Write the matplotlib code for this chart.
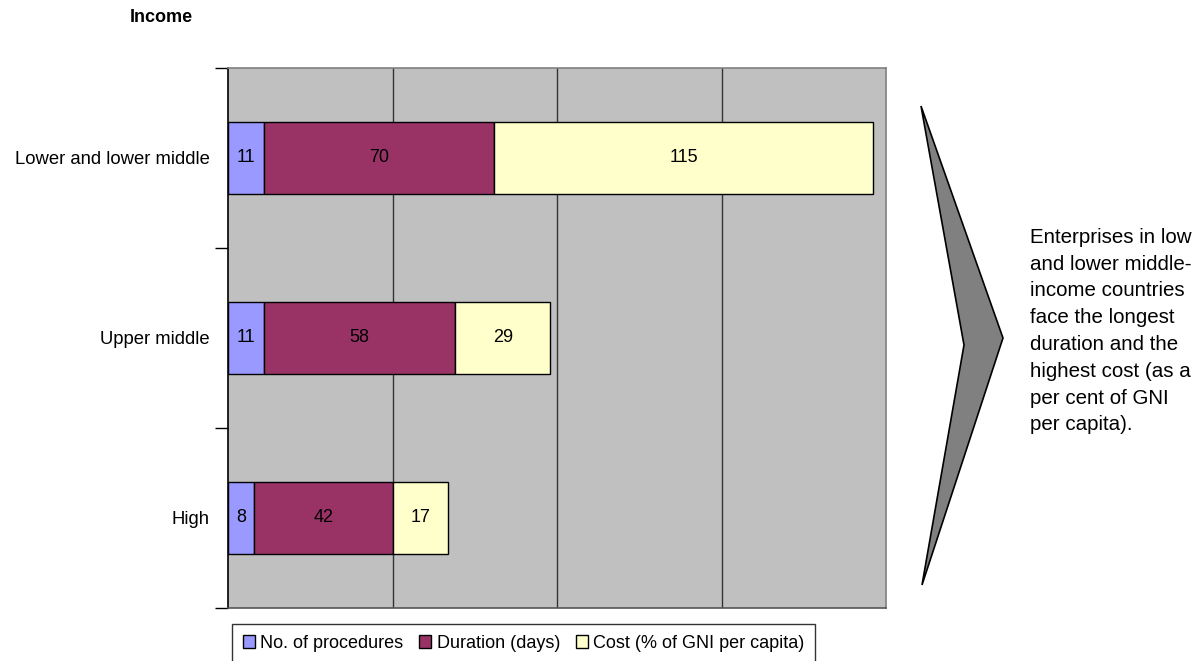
import numpy as np
import matplotlib.pyplot as plt
from matplotlib.patches import Polygon

plt.rcParams['font.family'] = ['Liberation Sans', 'DejaVu Sans']

categories = ['High', 'Upper middle', 'Lower and lower middle']
series_names = ['No. of procedures', 'Duration (days)', 'Cost (% of GNI per capita)']
procedures = [8, 11, 11]
duration = [42, 58, 70]
cost = [17, 29, 115]
colors = ['#9999FF', '#993366', '#FFFFCC']

W, H = 1202, 661
fig = plt.figure(figsize=(W / 100, H / 100), dpi=100)
ax = fig.add_axes([228 / W, 1 - 608 / H, (886 - 228) / W, (608 - 68) / H])
ax.set_facecolor('#C0C0C0')

y = np.arange(len(categories))
left = np.zeros(len(categories))
for vals, name, col in zip([procedures, duration, cost], series_names, colors):
    bars = ax.barh(y, vals, left=left, height=0.4, color=col,
                   edgecolor='black', linewidth=1, label=name, zorder=3)
    for b, v in zip(bars, vals):
        ax.text(b.get_x() + b.get_width() / 2, b.get_y() + b.get_height() / 2,
                str(v), ha='center', va='center', fontsize=13, zorder=4)
    left += np.array(vals)

ax.set_xlim(0, 200)
ax.set_ylim(-0.5, 2.5)
ax.set_xticks([50, 100, 150])
ax.xaxis.grid(True, color='#333333', linewidth=1, zorder=1)
ax.tick_params(axis='x', length=0, labelbottom=False)

ax.set_yticks([-0.5, 0.5, 1.5, 2.5])
ax.set_yticklabels([])
ax.set_yticks(y, minor=True)
ax.set_yticklabels(categories, minor=True, fontsize=13.3)
ax.tick_params(axis='y', which='major', length=9.5, width=1, color='black')
ax.tick_params(axis='y', which='minor', length=0, pad=13)

ax.spines['left'].set_color('black')
ax.spines['bottom'].set_color('#555555')
ax.spines['top'].set_color('#808080')
ax.spines['right'].set_color('#808080')
for s in ax.spines.values():
    s.set_linewidth(1.2)

fig.text(130 / W, 1 - 17 / H, 'Income', fontsize=13, fontweight='bold', va='center')

leg = fig.legend(loc='upper left', bbox_to_anchor=(232 / W, 1 - 624 / H),
                 ncol=3, fontsize=13, frameon=True, fancybox=False,
                 edgecolor='black', handlelength=0.65, handleheight=0.65,
                 handletextpad=0.3, columnspacing=0.9, borderpad=0.6,
                 borderaxespad=0)
leg.get_frame().set_linewidth(1)

# chevron arrow
pts = [(921, 106), (1003, 338), (922, 585), (964, 345)]
arrow = Polygon([(px / W, 1 - py / H) for px, py in pts], closed=True,
                facecolor='#808080', edgecolor='black', linewidth=1.2,
                transform=fig.transFigure)
fig.patches.append(arrow)

fig.text(1030 / W, 1 - 331 / H,
         'Enterprises in low\nand lower middle-\nincome countries\nface the longest\n'
         'duration and the\nhighest cost (as a\nper cent of GNI\nper capita).',
         fontsize=14.8, va='center', ha='left', linespacing=1.52)

fig.savefig('out.png', dpi=100)
